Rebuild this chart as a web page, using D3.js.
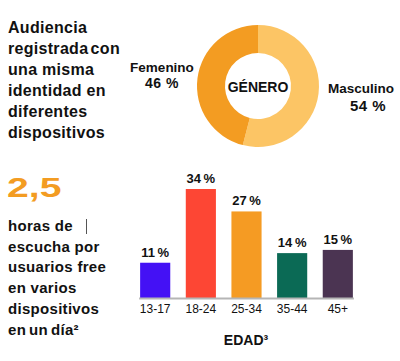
<!DOCTYPE html>
<html>
<head>
<meta charset="utf-8">
<script src="https://cdn.jsdelivr.net/npm/d3@7"></script>
<style>
  body { margin: 0; background: #fff; }
  text { font-family: "Liberation Sans", Arial, sans-serif; }
</style>
</head>
<body>
<div id="chart"></div>
<script>
"use strict";

const width = 400,
      height = 361;

// genero (donut)
const genders = ["Masculino", "Femenino"];
const genderValues = [54, 46];
const genderColors = ["#fcc565", "#f39c22"];

// edad (bars)
const ages = ["13-17", "18-24", "25-34", "35-44", "45+"];
const ageValues = [11, 34, 27, 14, 15];
const ageColors = ["#4411f5", "#fd4634", "#f59b23", "#0b6a55", "#4b3452"];

const titleLines = ["Audiencia", "registrada con", "una misma", "identidad en", "diferentes", "dispositivos"];
const hoursLines = ["horas de", "escucha por", "usuarios free", "en varios", "dispositivos", "en un día²"];

const svg = d3.select("#chart")
  .append("svg")
  .attr("width", width)
  .attr("height", height);

// left title block
svg.append("g")
  .selectAll("text")
  .data(titleLines)
  .join("text")
    .attr("x", 8)
    .attr("y", (d, i) => 33 + i * 21)
    .attr("font-size", 16)
    .attr("font-weight", "bold")
    .attr("letter-spacing", 0.3)
    .attr("word-spacing", (d, i) => i === 1 ? -2.5 : 0)
    .attr("fill", "#111")
    .text(d => d);

// big number, drawn wider like the original
svg.append("text")
  .attr("transform", "translate(7,197) scale(1.45,1)")
  .attr("font-size", 27)
  .attr("font-weight", "bold")
  .attr("fill", "#f39c22")
  .text("2,5");

svg.append("g")
  .selectAll("text")
  .data(hoursLines)
  .join("text")
    .attr("x", 8)
    .attr("y", (d, i) => 231 + i * 20.7)
    .attr("font-size", 15)
    .attr("font-weight", "bold")
    .attr("letter-spacing", 0.3)
    .attr("word-spacing", (d, i) => i === 5 ? -1.5 : 0)
    .attr("fill", "#111")
    .text(d => d);

// little cursor mark after "horas de"
svg.append("line")
  .attr("x1", 86.5).attr("x2", 86.5)
  .attr("y1", 219).attr("y2", 234)
  .attr("stroke", "#555")
  .attr("stroke-width", 1);

// donut
const cx = 258, cy = 86;
const pie = d3.pie().sort(null).value(d => d);
const arc = d3.arc().innerRadius(33).outerRadius(61);

const donut = svg.append("g")
  .attr("transform", `translate(${cx},${cy})`);

donut.selectAll("path")
  .data(pie(genderValues))
  .join("path")
    .attr("d", arc)
    .attr("fill", (d, i) => genderColors[i]);

donut.append("text")
  .attr("text-anchor", "middle")
  .attr("y", 6)
  .attr("font-size", 14)
  .attr("font-weight", "bold")
  .attr("fill", "#111")
  .text("GÉNERO");

// gender labels
svg.append("text")
  .attr("x", 162).attr("y", 72)
  .attr("text-anchor", "middle")
  .attr("font-size", 13.5).attr("font-weight", "bold").attr("fill", "#111")
  .text(genders[1]);
svg.append("text")
  .attr("x", 162).attr("y", 88)
  .attr("text-anchor", "middle")
  .attr("font-size", 14).attr("font-weight", "bold").attr("fill", "#111")
  .attr("letter-spacing", 0.5)
  .text(genderValues[1] + " %");

svg.append("text")
  .attr("x", 361).attr("y", 93)
  .attr("text-anchor", "middle")
  .attr("font-size", 13.5).attr("font-weight", "bold").attr("fill", "#111")
  .text(genders[0]);
svg.append("text")
  .attr("x", 368).attr("y", 111)
  .attr("text-anchor", "middle")
  .attr("font-size", 15).attr("font-weight", "bold").attr("fill", "#111")
  .attr("letter-spacing", 0.5)
  .text(genderValues[0] + " %");

// bar chart
const x = d3.scaleBand()
  .domain(ages)
  .range([131, 362])
  .paddingInner(0.34)
  .paddingOuter(0.2);

const y = d3.scaleLinear()
  .domain([0, 34])
  .range([298, 189]);

const bars = svg.append("g");

bars.selectAll("rect")
  .data(ageValues)
  .join("rect")
    .attr("x", (d, i) => x(ages[i]))
    .attr("y", d => y(d))
    .attr("width", x.bandwidth())
    .attr("height", d => y(0) - y(d))
    .attr("fill", (d, i) => ageColors[i]);

bars.selectAll("text.val")
  .data(ageValues)
  .join("text")
    .attr("class", "val")
    .attr("x", (d, i) => x(ages[i]) + x.bandwidth() / 2)
    .attr("y", d => y(d) - 6)
    .attr("text-anchor", "middle")
    .attr("font-size", 13)
    .attr("font-weight", "bold")
    .attr("word-spacing", -1)
    .attr("fill", "#111")
    .text(d => d + " %");

const xAxis = svg.append("g")
  .attr("transform", `translate(0,${y(0)})`)
  .call(d3.axisBottom(x).tickSize(0).tickPadding(6));

xAxis.select(".domain")
  .attr("stroke", "#b5b5b5")
  .attr("stroke-width", 2)
  .attr("d", `M${x(ages[0]) - 1},0.5H${x(ages[4]) + x.bandwidth() + 1}`);

xAxis.selectAll("text")
  .attr("font-size", 12)
  .attr("font-family", "Liberation Sans, Arial, sans-serif")
  .attr("fill", "#111");

svg.append("text")
  .attr("x", 246).attr("y", 345)
  .attr("text-anchor", "middle")
  .attr("font-size", 14).attr("font-weight", "bold").attr("fill", "#111")
  .text("EDAD³");
</script>
</body>
</html>
